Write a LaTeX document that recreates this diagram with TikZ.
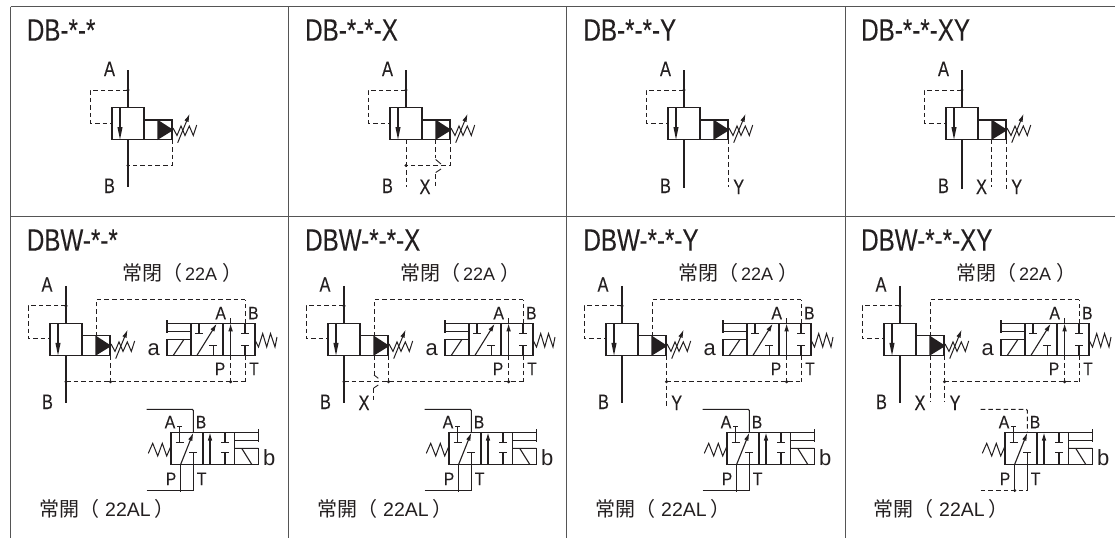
\documentclass[tikz,border=0pt]{standalone}
\usepackage{fontspec}
\usetikzlibrary{arrows.meta}
\setmainfont{Liberation Sans}
\newfontfamily\narrowf[FakeStretch=0.78,FakeBold=0.1]{Liberation Sans}
\newfontfamily\smallf[FakeStretch=0.88,FakeBold=0.05]{Liberation Sans}
\newfontfamily\cjkf{Noto Sans CJK TC}
\definecolor{ink}{HTML}{231F20}
\definecolor{grid}{HTML}{555555}
\newcommand{\cjktxt}[1]{{\cjkf\fontsize{20}{20}\selectfont #1}}
\tikzset{
  ln/.style={draw=ink,line width=1.1pt},
  dsh/.style={draw=ink,line width=1pt,dash pattern=on 4.6pt off 3pt},
  thk/.style={draw=ink,line width=1.6pt},
  gridline/.style={draw=grid,line width=1.1pt},
  tip/.style={-{Latex[length=8pt,width=4.6pt]}},
  ttl/.style={anchor=base west,inner sep=0,text=ink,font=\narrowf\fontsize{31}{31}\selectfont},
  big/.style={anchor=base,inner sep=0,text=ink,font=\narrowf\fontsize{21}{21}\selectfont},
  lab/.style={anchor=base,inner sep=0,text=ink,font=\smallf\fontsize{18}{18}\selectfont},
  sol/.style={anchor=base,inner sep=0,text=ink,font=\rmfamily\fontsize{22}{22}\selectfont},
  captxt/.style={anchor=base west,inner sep=0,text=ink,font=\rmfamily\fontsize{18}{18}\selectfont},
}
% relief symbol, in the coordinates of the upper left cell
\newcommand{\reliefsym}{%
  \draw[ln] (128,70) -- (128,107.5);
  \draw[ln] (112,107.5) rectangle (144,139.5);
  \draw[ln] (120,107.5) -- (120,128);
  \fill[ink] (117.4,127) -- (122.6,127) -- (120,139.5) -- cycle;
  \draw[ln] (144,120) -- (172,120) -- (172,139.5) -- (144,139.5);
  \fill[ink] (157.3,119.5) -- (157.3,140) -- (173.5,130) -- cycle;
  \draw[ln,line width=1pt] (173,128) -- (177,135.5) -- (181,126) -- (185,135.5) -- (189.3,126) -- (193.3,135.5) -- (196.7,125);
  \draw[ln,line width=1pt,tip] (177.7,142.7) -- (189.6,113.8);
  \draw[dsh] (128,90) -- (90,90) -- (90,123) -- (112,123);
  \fill[ink] (128,90) circle (1.7);
}
% valve a, in the coordinates of the lower left cell
\newcommand{\valvea}{%
  \draw[ln] (167,331.7) -- (191,331.7);
  \draw[ln] (167,320) -- (167,332.5);
  \draw[ln] (167,323.3) -- (255,323.3) -- (255,355.3) -- (167,355.3) -- (167,339.3) -- (191,339.3);
  \draw[ln] (191,323.3) -- (191,355.3);
  \draw[ln] (223,323.3) -- (223,355.3);
  \draw[ln] (173.3,355.3) -- (184,339.3);
  \draw[ln] (199,323.3) -- (199,333.3) (195,333.3) -- (203,333.3);
  \draw[ln,tip] (197,355.3) -- (216.7,323.6);
  \draw[ln] (213.3,355.3) -- (213.3,345.3) (209.3,345.3) -- (217.3,345.3);
  \draw[ln,tip] (230.6,355.3) -- (230.6,323.3);
  \draw[ln] (230.6,323.3) -- (230.6,318);
  \draw[ln] (245,323.3) -- (245,333.3) (241,333.3) -- (249,333.3);
  \draw[ln] (245,355.3) -- (245,345.3) (241,345.3) -- (249,345.3);
  \draw[ln,line width=1pt] (255,340) -- (258.5,347) -- (262.7,333.5) -- (266.7,347) -- (270.5,333.5) -- (275,347) -- (277,337);
  \draw[dsh] (245,323.3) -- (245,299.5);
  \draw[dsh] (230.6,355.3) -- (230.6,381.7);
  \draw[dsh] (245,355.3) -- (245,381.7);
  \fill[ink] (230.6,381.7) circle (1.7);
  \node[sol] at (153.7,355) {a};
  \node[lab] at (220.7,319.3) {A};
  \node[lab] at (253.3,319.3) {B};
  \node[lab] at (220,375) {P};
  \node[lab] at (254,375) {T};
  \node[captxt] at (122,280.5) {\cjktxt{常閉（}\kern3pt 22A\kern5pt\cjktxt{）}};
}
% valve b; #1, #2 = styles of the two port lines
\newcommand{\valveb}[2]{%
  \draw[ln] (171,432.5) rectangle (258.3,464.3);
  \fill[white] (256,441.5) rectangle (260,447.5);
  \draw[ln] (203,432.5) -- (203,464.3);
  \draw[ln] (234.3,432.5) -- (234.3,464.3);
  \draw[ln] (179.3,426.5) -- (179.3,442.7) (175.5,442.7) -- (183.5,442.7) (177,426.5) -- (181.6,426.5);
  \draw[ln,tip] (180.7,464.3) -- (193.3,432.7);
  \draw[ln] (193.3,464.3) -- (193.3,452.7) (189.3,452.7) -- (197.3,452.7);
  \draw[ln,tip] (210,464.3) -- (210,432.5);
  \draw[ln] (225,432.5) -- (225,442.7) (221,442.7) -- (229,442.7);
  \draw[ln] (225,464.3) -- (225,452.7) (221,452.7) -- (229,452.7);
  \draw[ln] (234.3,440.7) -- (258.3,440.7) (258.3,429.3) -- (258.3,441);
  \draw[ln] (234.3,448.3) -- (258.3,448.3) (241.7,448.3) -- (251.7,464.3);
  \draw[ln,line width=1pt] (148.3,453.3) -- (152.7,443.3) -- (157.7,456) -- (162.3,443.3) -- (166.7,456) -- (170.7,446.7);
  \draw[#1] (146.7,409.3) -- (192.3,409.3) -- (193.3,410.5) -- (193.3,432.5);
  \draw[#2] (146.7,490.5) -- (193.3,490.5);
  \draw[ln,line width=1.4pt] (180.7,464.3) -- (180.7,491.5);
  \draw[ln,line width=1.4pt] (193.3,464.3) -- (193.3,490.5);
  \node[sol] at (269.3,465) {b};
  \node[lab] at (170,428.3) {A};
  \node[lab] at (201,428.3) {B};
  \node[lab] at (171,485) {P};
  \node[lab] at (201.7,485) {T};
  \node[captxt,font=\rmfamily\fontsize{19.5}{20}\selectfont] at (39,516.3) {\cjktxt{常開（}\kern6pt 22AL\kern4pt\cjktxt{）}};
}
\newcommand{\lowerrelief}{%
  \begin{scope}[shift={(-62,215.9)}]\reliefsym\end{scope}
  \draw[dsh] (96,336.7) -- (96,299.5) -- (245,299.5);
  \node[big] at (47,291.7) {A};
  \node[big] at (47.5,409) {B};
}
\begin{document}
\begin{tikzpicture}[x=1pt,y=-1pt]
\useasboundingbox (0,0) rectangle (1115,538);
% grid
\draw[gridline] (10.5,6.5) -- (1115,6.5);
\draw[gridline] (10.5,216.3) -- (1115,216.3);
\draw[gridline] (10.5,6.5) -- (10.5,538);
\draw[gridline] (288.5,6.5) -- (288.5,538);
\draw[gridline] (566.7,6.5) -- (566.7,538);
\draw[gridline] (845.4,6.5) -- (845.4,538);
% titles
\node[ttl] at (26.7,40.7) {DB-*-*};
\node[ttl] at (305,40.7) {DB-*-*-X};
\node[ttl] at (583.3,40.7) {DB-*-*-Y};
\node[ttl] at (861,40.7) {DB-*-*-XY};
\node[ttl] at (26.7,250.7) {DBW-*-*};
\node[ttl] at (305,250.7) {DBW-*-*-X};
\node[ttl] at (583.3,250.7) {DBW-*-*-Y};
\node[ttl] at (861,250.7) {DBW-*-*-XY};
% ---- top row
\begin{scope}
  \reliefsym
  \draw[ln] (128,139.5) -- (128,187);
  \draw[dsh] (172,139.5) -- (172,165.5) -- (128,165.5);
  \fill[ink] (128,165.5) circle (1.7);
  \node[big] at (109.5,76) {A};
  \node[big] at (109.5,193) {B};
\end{scope}
\begin{scope}[shift={(278,0)}]
  \reliefsym
  \draw[dsh] (128,139.5) -- (128,187);
  \draw[dsh] (172,139.5) -- (172,165.5) -- (128,165.5);
  \fill[ink] (128,165.5) circle (1.7);
  \draw[dsh] (157.7,139.5) -- (157.7,158);
  \draw[ln,line width=.9pt] (157.7,159.5) -- (163,164);
  \draw[ln,line width=.9pt] (163,169) -- (157.7,172.5);
  \draw[dsh] (157.7,174) -- (157.7,187);
  \node[big] at (109.5,76) {A};
  \node[big] at (109.5,193) {B};
  \node[big] at (147,194) {X};
\end{scope}
\begin{scope}[shift={(556,0)}]
  \reliefsym
  \draw[ln] (128,139.5) -- (128,188);
  \draw[dsh] (172,139.5) -- (172,187);
  \node[big] at (109.5,76) {A};
  \node[big] at (109.5,193) {B};
  \node[big] at (182.7,194) {Y};
\end{scope}
\begin{scope}[shift={(834,0)}]
  \reliefsym
  \draw[ln] (128,139.5) -- (128,189);
  \draw[dsh] (157.7,139.5) -- (157.7,187);
  \draw[dsh] (172,139.5) -- (172,189);
  \node[big] at (109.5,76) {A};
  \node[big] at (109.5,193) {B};
  \node[big] at (147.5,194) {X};
  \node[big] at (182.7,194) {Y};
\end{scope}
% ---- bottom row
\begin{scope}
  \lowerrelief \valvea \valveb{ln}{thk}
  \draw[ln] (66,355.3) -- (66,402.7);
  \draw[dsh] (66,381.7) -- (245,381.7);
  \draw[dsh] (110.5,355.3) -- (110.5,381.7);
  \fill[ink] (66,381.7) circle (1.7) (110.5,381.7) circle (1.7);
\end{scope}
\begin{scope}[shift={(278,0)}]
  \lowerrelief \valvea \valveb{ln}{thk}
  \draw[thk,line width=1.4pt] (66,355.3) -- (66,402.7);
  \draw[dsh] (66,381.7) -- (245,381.7);
  \draw[dsh] (110.5,355.3) -- (110.5,381.7);
  \fill[ink] (66,381.7) circle (1.7) (110.5,381.7) circle (1.7);
  \draw[dsh] (96,355.3) -- (96,375);
  \draw[ln,line width=.9pt] (96,375) -- (100.3,378.3);
  \draw[ln,line width=.9pt] (100.3,385) -- (95.7,388);
  \draw[dsh] (95.7,388) -- (95.7,401.7);
  \node[big] at (86,410) {X};
\end{scope}
\begin{scope}[shift={(556,0)}]
  \lowerrelief \valvea \valveb{ln}{ln}
  \draw[ln] (66,355.3) -- (66,402.7);
  \draw[dsh] (110.5,355.3) -- (110.5,406);
  \draw[dsh] (110.5,381.7) -- (245,381.7);
  \fill[ink] (110.5,381.7) circle (1.7);
  \node[big] at (120.7,410) {Y};
\end{scope}
\begin{scope}[shift={(834,0)}]
  \lowerrelief \valvea \valveb{dsh}{dsh}
  \draw[ln] (66,355.3) -- (66,402.7);
  \draw[dsh] (96,355.3) -- (96,401.7);
  \draw[dsh] (110.5,355.3) -- (110.5,401.7);
  \draw[dsh] (110.5,381.7) -- (245,381.7);
  \fill[ink] (110.5,381.7) circle (1.7) (180.7,490.5) circle (1.7);
  \node[big] at (86,410) {X};
  \node[big] at (121,410) {Y};
\end{scope}
\end{tikzpicture}
\end{document}
